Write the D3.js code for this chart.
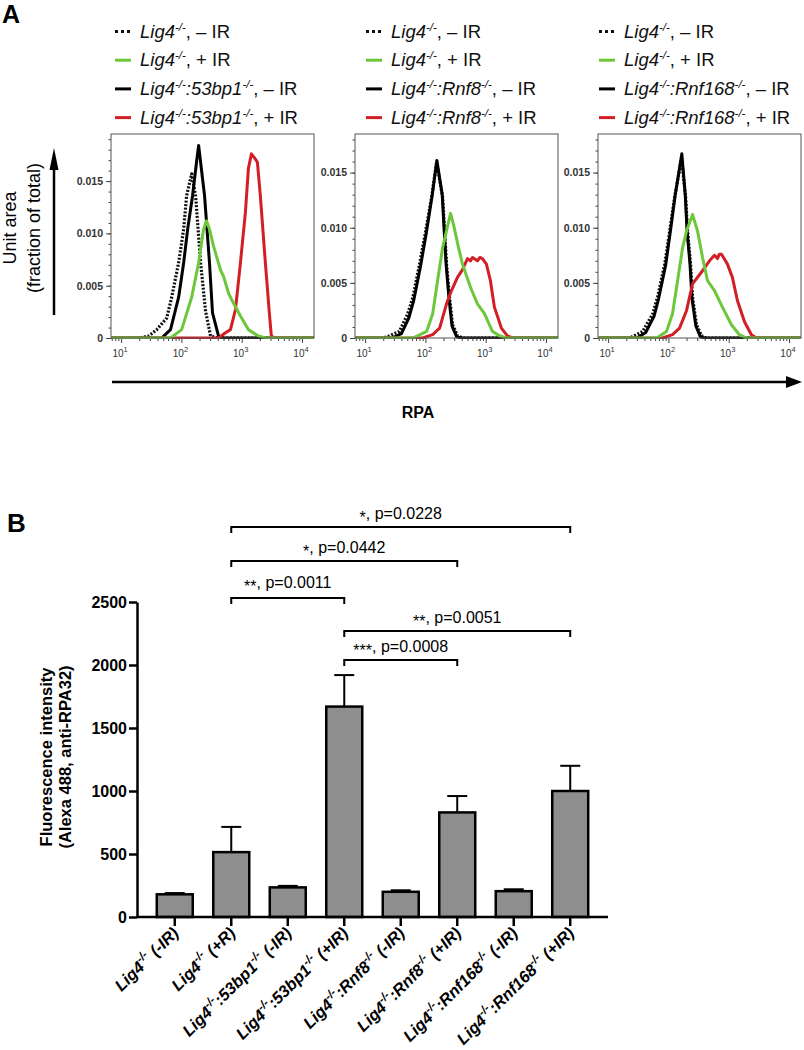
<!DOCTYPE html>
<html>
<head>
<meta charset="utf-8">
<script src="https://cdn.jsdelivr.net/npm/d3@7"></script>
<style>
  body { margin: 0; background: #fff; }
  svg { display: block; font-family: "Liberation Sans", Arial, sans-serif; }
</style>
</head>
<body>
<svg id="fig" width="804" height="1050"></svg>
<script>
// ---- panel A: histogram data, [RPA intensity, fraction of total] ----
var secondGene = ["53bp1", "Rnf8", "Rnf168"];

var lig4Minus1 = [[7,0],[20,0],[29,0.0002],[39,0.0008],[57,0.0019],[69,0.0039],[90,0.0072],[109,0.0104],[122,0.0136],[148,0.0157],[172,0.0136],[208,0.0072],[251,0.0026],[304,0.0002],[400,0],[16000,0]];
var lig4Plus1  = [[7,0],[66,0],[101,0.0008],[148,0.0039],[193,0.0072],[233,0.0104],[261,0.0112],[292,0.0104],[340,0.0088],[445,0.0065],[499,0.0059],[603,0.0043],[676,0.0037],[953,0.0021],[1291,0.0008],[1888,0.0002],[2466,0],[16000,0]];
var dkoMinus1  = [[7,0],[47,0],[66,0.0008],[90,0.0039],[109,0.0072],[127,0.0104],[153,0.0136],[178,0.0168],[193,0.0184],[242,0.0136],[292,0.0072],[328,0.0024],[412,0.0002],[500,0],[16000,0]];
var dkoPlus1   = [[7,0],[412,0],[538,0.0005],[650,0.0008],[787,0.0027],[953,0.0072],[1151,0.0120],[1291,0.0162],[1449,0.0176],[1687,0.0171],[1820,0.0168],[2037,0.0136],[2466,0.0072],[2871,0.0024],[3097,0.0002],[3500,0],[16000,0]];

var lig4Minus2 = [[7,0],[20,0],[23,0.0001],[37,0.0006],[51,0.0022],[62,0.0037],[80,0.0067],[101,0.0097],[127,0.0128],[153,0.0159],[193,0.0128],[208,0.0097],[224,0.0067],[251,0.0037],[282,0.0012],[340,0.0002],[420,0],[16000,0]];
var lig4Plus2  = [[7,0],[62,0],[105,0.0006],[132,0.0022],[159,0.0052],[193,0.0082],[261,0.0113],[292,0.0103],[354,0.0082],[412,0.0067],[559,0.0046],[729,0.0031],[953,0.0022],[1291,0.0006],[1687,0.0002],[2200,0],[16000,0]];
var dkoMinus2  = [[7,0],[28,0],[40,0.0004],[53,0.0018],[64,0.0034],[83,0.0065],[104,0.0096],[130,0.0130],[155,0.0161],[190,0.0130],[205,0.0097],[221,0.0066],[246,0.0036],[276,0.0011],[330,0.0001],[400,0],[16000,0]];
var dkoPlus2   = [[7,0],[90,0],[132,0.0003],[172,0.0009],[224,0.0031],[271,0.0043],[340,0.0055],[412,0.0062],[499,0.0072],[560,0.0070],[603,0.0073],[729,0.0070],[800,0.0073],[883,0.0072],[1028,0.0067],[1197,0.0052],[1393,0.0028],[1820,0.0009],[2287,0.0002],[2800,0],[16000,0]];

var lig4Minus3 = [[7,0],[23,0],[37.5,0.0006],[55,0.0022],[66,0.0037],[87,0.0067],[105,0.0097],[127,0.0128],[165,0.0163],[193,0.0128],[208,0.0097],[233,0.0067],[251,0.0037],[292,0.0012],[354,0.0002],[420,0],[16000,0]];
var lig4Plus3  = [[7,0],[64,0],[93,0.0006],[117,0.0022],[142,0.0052],[172,0.0082],[200,0.0097],[251,0.0112],[304,0.0097],[368,0.0073],[445,0.0052],[581,0.0043],[787,0.0028],[1109,0.0012],[1503,0.0003],[1963,0],[16000,0]];
var dkoMinus3  = [[7,0],[30,0],[42,0.0005],[58,0.0020],[69,0.0036],[90,0.0066],[108,0.0097],[130,0.0130],[167,0.0167],[190,0.0130],[204,0.0097],[228,0.0067],[246,0.0036],[285,0.0011],[340,0.0001],[400,0],[16000,0]];
var dkoPlus3   = [[7,0],[80,0],[117,0.0003],[153,0.0009],[200,0.0025],[251,0.0049],[368,0.0061],[480,0.0070],[581,0.0075],[651,0.0072],[700,0.0076],[758,0.0076],[820,0.0073],[953,0.0067],[1151,0.0055],[1393,0.0034],[1820,0.0015],[2373,0.0003],[2871,0],[16000,0]];

var histTicksY = [0, 0.005, 0.010, 0.015];
var histTicksX = [10, 100, 1000, 10000];

// ---- panel B: bar data ----
var categories = ["Lig4-/- (-IR)", "Lig4-/- (+R)", "Lig4-/-:53bp1-/- (-IR)", "Lig4-/-:53bp1-/- (+IR)",
                  "Lig4-/-:Rnf8-/- (-IR)", "Lig4-/-:Rnf8-/- (+IR)", "Lig4-/-:Rnf168-/- (-IR)", "Lig4-/-:Rnf168-/- (+IR)"];
var means = [180, 515, 235, 1670, 200, 830, 205, 1000];
var sems  = [10, 200, 12, 250, 12, 130, 15, 200];
var barTicks = [0, 500, 1000, 1500, 2000, 2500];

var sigFrom  = [1, 1, 1, 3, 3];
var sigTo    = [7, 5, 3, 7, 5];
var sigStars = ["*", "*", "**", "**", "***"];
var sigP     = ["0.0228", "0.0442", "0.0011", "0.0051", "0.0008"];
var sigLevel = [3095, 2825, 2532, 2270, 2040];

var GREEN = "#6cc73a", RED = "#d21f26";
var svg = d3.select("#fig");

// rich text helper: parts split by "-/-" become superscripts
function richText(sel, str, baseItalic, supScale) {
    var parts = str.split("-/-");
    parts.forEach(function(p, i) {
        if (p.length) {
            sel.append("tspan").attr("dy", i > 0 ? 7 : null)
                .attr("font-style", baseItalic ? "italic" : null).text(p);
        }
        if (i < parts.length - 1) {
            sel.append("tspan").attr("dy", p.length || i === 0 ? -7 : 0)
                .attr("font-size", (supScale || 0.62) + "em").attr("font-style", baseItalic ? "italic" : null).text("-/-");
        }
    });
}

// ================= PANEL A =================
svg.append("text").attr("x", 2).attr("y", 23).attr("font-size", 25).attr("font-weight", "bold").text("A");

var panelX = [111, 355, 598], panelW = 203, panelTop = 134, panelBottom = 338;
var yMaxes = [0.0195, 0.0185, 0.0185];
var series = [
    [lig4Minus1, dkoMinus1, dkoPlus1, lig4Plus1],
    [lig4Minus2, dkoMinus2, dkoPlus2, lig4Plus2],
    [lig4Minus3, dkoMinus3, dkoPlus3, lig4Plus3]
];
var styles = [
    { color: "#111", dash: "2,1.6", width: 3.2 },
    { color: "#000", dash: null, width: 3 },
    { color: RED, dash: null, width: 3 },
    { color: GREEN, dash: null, width: 3 }
];

panelX.forEach(function(px, pi) {
    var g = svg.append("g").attr("transform", "translate(" + px + ",0)");
    var x = d3.scaleLog().domain([6.8, 15800]).range([0, panelW]);
    var y = d3.scaleLinear().domain([0, yMaxes[pi]]).range([panelBottom, panelTop]);

    g.append("clipPath").attr("id", "clip" + pi).append("rect")
        .attr("x", 0).attr("y", panelTop).attr("width", panelW).attr("height", panelBottom - panelTop + 1);

    // minor y ticks
    g.append("g")
        .call(d3.axisLeft(y).tickValues(d3.range(0, yMaxes[pi], 0.001)).tickSize(2.5).tickFormat(""))
        .call(function(a) { a.select(".domain").remove(); a.selectAll("line").attr("stroke", "#444"); });
    var ya = g.append("g")
        .call(d3.axisLeft(y).tickValues(histTicksY).tickSize(5).tickPadding(3)
            .tickFormat(function(d) { return d === 0 ? "0" : d3.format(".3f")(d); }));
    ya.select(".domain").remove();
    ya.selectAll("line").attr("stroke", "#444");
    ya.selectAll("text").attr("font-size", 10.5).attr("font-weight", "bold").attr("fill", "#333")
        .attr("font-family", "Liberation Sans, Arial, sans-serif");

    // x axis (log) with minor ticks
    var minors = [];
    [1, 10, 100, 1000].forEach(function(dec) {
        for (var k = 2; k <= 9; k++) if (dec * k >= 6.8 && dec * k <= 15800) minors.push(dec * k);
    });
    g.append("g").attr("transform", "translate(0," + panelBottom + ")")
        .call(d3.axisBottom(x).tickValues(minors).tickSize(3).tickFormat(""))
        .call(function(a) { a.select(".domain").remove(); a.selectAll("line").attr("stroke", "#444"); });
    var xa = g.append("g").attr("transform", "translate(0," + panelBottom + ")")
        .call(d3.axisBottom(x).tickValues(histTicksX).tickSize(5).tickFormat(""));
    xa.select(".domain").remove();
    xa.selectAll("line").attr("stroke", "#444");
    histTicksX.forEach(function(t) {
        var tx = g.append("text").attr("x", x(t) - 1).attr("y", panelBottom + 19)
            .attr("text-anchor", "middle").attr("font-size", 10).attr("fill", "#333");
        tx.append("tspan").text("10");
        tx.append("tspan").attr("dy", -5).attr("font-size", 7.5).text(Math.round(Math.log10(t)));
    });

    // curves
    var line = d3.line().x(function(d) { return x(d[0]); }).y(function(d) { return y(d[1]); });
    var cg = g.append("g").attr("clip-path", "url(#clip" + pi + ")");
    series[pi].forEach(function(s, si) {
        cg.append("path").attr("d", line(s)).attr("fill", "none")
            .attr("stroke", styles[si].color).attr("stroke-width", styles[si].width)
            .attr("stroke-dasharray", styles[si].dash).attr("stroke-linejoin", "round");
    });

    // frame
    g.append("rect").attr("x", 0).attr("y", panelTop).attr("width", panelW).attr("height", panelBottom - panelTop)
        .attr("fill", "none").attr("stroke", "#555").attr("stroke-width", 1);

    // legend
    var lx = [115, 366, 599][pi] - px;
    var rows = [
        { label: "Lig4-/-", treat: ", \u2013 IR", st: 0 },
        { label: "Lig4-/-", treat: ", + IR", st: 3 },
        { label: "Lig4-/-:" + secondGene[pi] + "-/-", treat: ", \u2013 IR", st: 1 },
        { label: "Lig4-/-:" + secondGene[pi] + "-/-", treat: ", + IR", st: 2 }
    ];
    rows.forEach(function(r, ri) {
        var by = 37.5 + ri * 28.7;
        var st = styles[r.st];
        g.append("line").attr("x1", lx).attr("x2", lx + 16).attr("y1", by - 6).attr("y2", by - 6)
            .attr("stroke", st.color).attr("stroke-width", 3)
            .attr("stroke-dasharray", r.st === 0 ? "3,3" : null);
        var t = g.append("text").attr("x", lx + 25).attr("y", by).attr("font-size", 18.5).attr("fill", "#111");
        richText(t, r.label, true);
        t.append("tspan").attr("dy", 7).text(r.treat);
    });
});

// axis arrows
svg.append("line").attr("x1", 112).attr("x2", 788).attr("y1", 382).attr("y2", 382)
    .attr("stroke", "#000").attr("stroke-width", 2.5);
svg.append("path").attr("d", "M786,376L802,382L786,388Z").attr("fill", "#000");
svg.append("text").attr("x", 418).attr("y", 418).attr("text-anchor", "middle")
    .attr("font-size", 16).attr("font-weight", "bold").text("RPA");

svg.append("line").attr("x1", 54).attr("x2", 54).attr("y1", 315).attr("y2", 166)
    .attr("stroke", "#000").attr("stroke-width", 2.5);
svg.append("path").attr("d", "M49.5,170L54,148L58.5,170Z").attr("fill", "#000");
svg.append("text").attr("transform", "translate(16,228) rotate(-90)").attr("text-anchor", "middle")
    .attr("font-size", 18).text("Unit area");
svg.append("text").attr("transform", "translate(40,228) rotate(-90)").attr("text-anchor", "middle")
    .attr("font-size", 18).text("(fraction of total)");

// ================= PANEL B =================
svg.append("text").attr("x", 7).attr("y", 532).attr("font-size", 26).attr("font-weight", "bold").text("B");

var xb = d3.scaleBand().domain(categories).range([137, 608]).paddingInner(0.363).paddingOuter(0.35);
var yb = d3.scaleLinear().domain([0, 2500]).range([917, 602]);
var bw = xb.bandwidth();

var bars = svg.append("g");
categories.forEach(function(c, i) {
    var cx = xb(c) + bw / 2;
    bars.append("line").attr("x1", cx).attr("x2", cx).attr("y1", yb(means[i])).attr("y2", yb(means[i] + sems[i]))
        .attr("stroke", "#000").attr("stroke-width", 2);
    bars.append("line").attr("x1", cx - 10).attr("x2", cx + 10)
        .attr("y1", yb(means[i] + sems[i])).attr("y2", yb(means[i] + sems[i]))
        .attr("stroke", "#000").attr("stroke-width", 2);
    bars.append("rect").attr("x", xb(c)).attr("y", yb(means[i])).attr("width", bw)
        .attr("height", yb(0) - yb(means[i])).attr("fill", "#8e8e8e").attr("stroke", "#000").attr("stroke-width", 2.5);
});

var yax = svg.append("g").attr("transform", "translate(137,0)")
    .call(d3.axisLeft(yb).tickValues(barTicks).tickSize(8).tickPadding(2).tickSizeOuter(0).tickFormat(d3.format("d")));
yax.select(".domain").attr("stroke-width", 2.5);
yax.selectAll("line").attr("stroke-width", 2.5);
yax.selectAll("text").attr("font-size", 16).attr("font-weight", "bold").attr("fill", "#000")
    .attr("font-family", "Liberation Sans, Arial, sans-serif");

var xax = svg.append("g").attr("transform", "translate(0,917)")
    .call(d3.axisBottom(xb).tickSize(9).tickSizeOuter(0).tickFormat(""));
xax.select(".domain").attr("stroke-width", 2.5).attr("d", "M137,0H608");
xax.selectAll("line").attr("stroke-width", 2.5);

categories.forEach(function(c) {
    var t = svg.append("text")
        .attr("transform", "translate(" + (xb(c) + bw / 2 + 5) + ",934) rotate(-45)")
        .attr("text-anchor", "end").attr("font-size", 16.5).attr("font-weight", "bold").attr("font-style", "italic");
    richText(t, c, true, 0.7);
});

svg.append("text").attr("transform", "translate(52,757) rotate(-90)").attr("text-anchor", "middle")
    .attr("font-size", 16.5).attr("font-weight", "bold").text("Fluorescence intensity");
svg.append("text").attr("transform", "translate(71,757) rotate(-90)").attr("text-anchor", "middle")
    .attr("font-size", 16.5).attr("font-weight", "bold").text("(Alexa 488, anti-RPA32)");

// significance brackets
sigFrom.forEach(function(f, i) {
    var x1 = xb(categories[f]) + bw / 2, x2 = xb(categories[sigTo[i]]) + bw / 2, ly = yb(sigLevel[i]);
    svg.append("path").attr("d", "M" + x1 + "," + (ly + 6) + "V" + ly + "H" + x2 + "V" + (ly + 6))
        .attr("fill", "none").attr("stroke", "#000").attr("stroke-width", 2);
    var t = svg.append("text").attr("x", (x1 + x2) / 2).attr("y", ly - (i === 2 ? 10 : 8))
        .attr("text-anchor", "middle").attr("font-size", 16);
    t.append("tspan").attr("dy", 4).text(sigStars[i]);
    t.append("tspan").attr("dy", -4).text(", p=" + sigP[i]);
});
</script>
</body>
</html>
